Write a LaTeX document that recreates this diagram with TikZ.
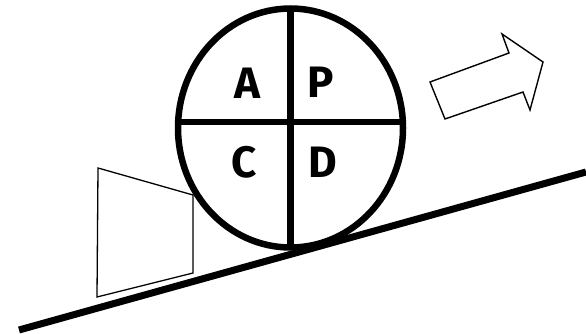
\documentclass[tikz,border=0pt]{standalone}
\usepackage{fontspec}
\newfontfamily\letterfont{Fira Sans}
\begin{document}
\begin{tikzpicture}[x=1pt,y=-1pt,
  thick line/.style={line width=6.5pt},
  thin shape/.style={draw, line width=1.4pt, line join=miter},
  quarter/.style={font=\letterfont\bfseries\fontsize{44}{44}\selectfont, inner sep=0pt}]
\useasboundingbox (0,0) rectangle (586,334);
% box behind the wheel
\draw[line width=1.3pt, line join=miter] (98,168) -- (193,195) -- (193,273) -- (97,297) -- cycle;
% wheel
\draw[thick line] (290.5,128) ellipse [x radius=112.5, y radius=119.5];
\coordinate (top) at (290.5,8.5);
\coordinate (bot) at (290.5,250);
\coordinate (lft) at (178,122);
\coordinate (rgt) at (403,122);
\draw[thick line] (top) -- (bot);
\draw[thick line] (lft) -- (rgt);
% incline
\coordinate (s0) at (19,330);
\coordinate (s1) at (586,172);
\draw[line width=7pt] (s0) -- (s1);
% letters
\node[quarter] (A) at (247,83) {A};
\node[quarter] (P) at (321,82) {P};
\node[quarter] (C) at (244,162) {C};
\node[quarter] (D) at (323,162) {D};
% arrow
\draw[thin shape] (430,82) -- (509,53) -- (502,34) -- (543,62) -- (530,110) -- (523,92) -- (445,119) -- cycle;
\end{tikzpicture}
\end{document}
